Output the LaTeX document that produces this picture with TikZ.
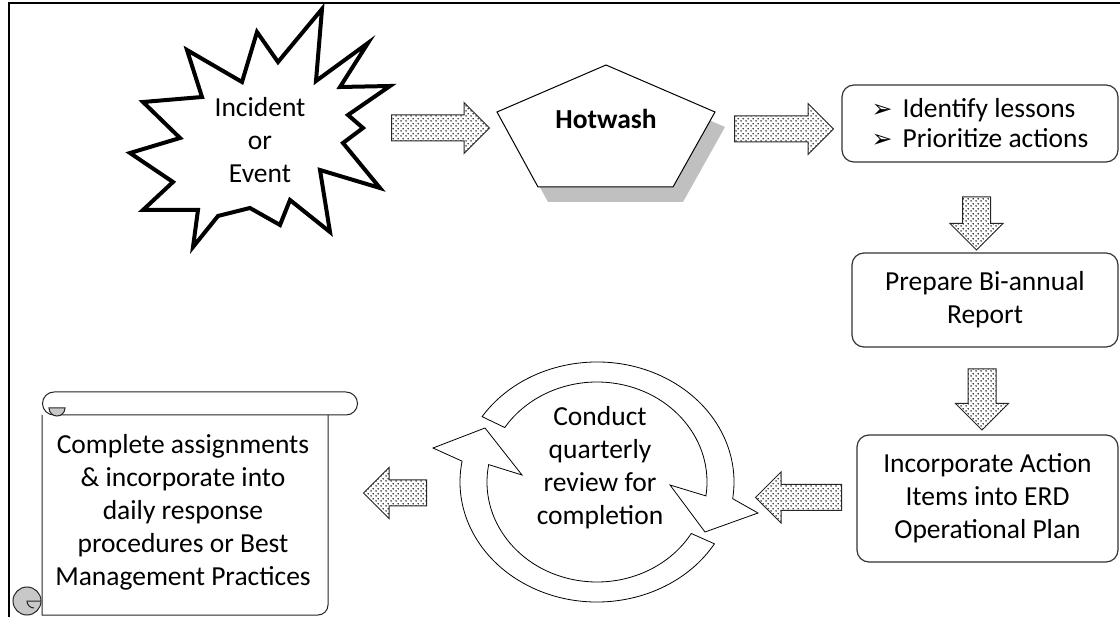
\documentclass[tikz,border=0pt]{standalone}
\usepackage{fontspec}
\setmainfont{Carlito}
\newfontfamily\symfont{DejaVu Sans}
\usetikzlibrary{shapes.arrows,patterns.meta,calc}

\definecolor{curlgray}{RGB}{200,200,200}
\definecolor{shadowgray}{RGB}{192,192,192}

\tikzdeclarepattern{
  name=arrowdots,
  type=uncolored,
  bounding box={(0pt,0pt) and (5pt,5pt)},
  tile size={(5pt,5pt)},
  code={
    \fill (1.25pt,1.25pt) circle (0.9pt);
    \fill (3.75pt,3.75pt) circle (0.9pt);
  }
}

\tikzset{
  body/.style={font=\fontsize{27.5}{33}\selectfont, align=center},
  stepbox/.style={draw=black!80, line width=1.2pt, rounded corners=12pt, fill=white},
  dotarrow/.style={single arrow, draw=black!85, line width=1pt,
    preaction={fill=white}, pattern=arrowdots, pattern color=black,
    single arrow head extend=12.5pt},
  harrow/.style={dotarrow, inner xsep=0pt, inner ysep=12.5pt},
  varrow/.style={dotarrow, inner xsep=13.5pt, inner ysep=0pt, shape border rotate=270},
  cyclearrow/.style={draw, line width=0.8pt, fill=white},
  scrollline/.style={draw=black!85, line width=1pt},
}

\begin{document}
\begin{tikzpicture}[x=1pt, y=-1pt]
  \useasboundingbox (0,0) rectangle (1120,617);

  % frame
  \draw[line width=2.5pt] (9,617) -- (9,3) -- (1120,3);

  % starburst
  \draw[line width=4pt, line join=miter, fill=white]
    (322,9) -- (316,81) -- (368,43) -- (340,87) -- (390,86) -- (348,115)
    -- (363,128) -- (343,143) -- (380,188) -- (320,170) -- (330,232)
    -- (290,200) -- (280,225) -- (250,208) -- (218,216) -- (193,247)
    -- (198,210) -- (143,210) -- (173,182) -- (130,153) -- (180,138)
    -- (143,102) -- (202,97) -- (187,50) -- (242,82) -- (257,32)
    -- (278,62) -- cycle;
  \node[body] (incident) at (260,140) {Incident\\or\\Event};

  % hotwash pentagon with shadow
  \fill[shadowgray, shift={(10,15)}]
    (606,65) -- (715,112) -- (673,187) -- (538,187) -- (497,112) -- cycle;
  \draw[line width=1pt, fill=white]
    (606,65) -- (715,112) -- (673,187) -- (538,187) -- (497,112) -- cycle;
  \node[body, font=\fontsize{27.5}{33}\selectfont\bfseries] (hotwash) at (606,119) {Hotwash};

  % boxes on the right
  \node[stepbox, minimum width=276pt, minimum height=77pt, align=left,
        font=\fontsize{27.5}{30}\selectfont] (lessons) at (980,123.5)
    {{\symfont\fontsize{25}{30}\selectfont ➢}\hspace{10pt}Identify lessons\\
     {\symfont\fontsize{25}{30}\selectfont ➢}\hspace{10pt}Prioritize actions};
  \node[stepbox, body, minimum width=266pt, minimum height=94pt] (report) at (985,300)
    {Prepare Bi-annual\\Report};
  \node[stepbox, body, minimum width=261pt, minimum height=127pt] (erd) at (987.5,498.5)
    {Incorporate Action\\Items into ERD\\Operational Plan};

  % review cycle
  \coordinate (cyc) at (597,482);
  \draw[cyclearrow] ($(cyc)+(31:137 and 120)$)
    arc[start angle=31, end angle=190, x radius=137, y radius=120]
    -- (433,448) -- (485,428) -- (522,475)
    -- ($(cyc)+(190:110 and 100)$)
    arc[start angle=190, end angle=31, x radius=110, y radius=100] -- cycle;
  \draw[cyclearrow] ($(cyc)+(-147:137 and 120)$)
    arc[start angle=-147, end angle=8, x radius=137, y radius=120]
    -- (758,513) -- (705,532) -- (670,485)
    -- ($(cyc)+(8:110 and 100)$)
    arc[start angle=8, end angle=-147, x radius=110, y radius=100] -- cycle;
  \node[body] (review) at (600,468) {Conduct\\quarterly\\review for\\completion};

  % scroll
  \draw[scrollline, fill=white] (42,415) -- (42,615) -- (318,615)
    arc[start angle=90, end angle=0, radius=10] -- (328,415);
  \draw[scrollline, fill=white] (54,392) -- (346,392)
    arc[start angle=-90, end angle=90, radius=11.5] -- (54,415)
    arc[start angle=90, end angle=270, radius=11.5] -- cycle;
  \draw[scrollline, fill=curlgray] (49,408)
    arc[start angle=180, end angle=0, radius=8] -- cycle;
  \draw[scrollline, fill=curlgray] (27,601) circle (14);
  \draw[scrollline] (41,601) -- (27,601) arc[start angle=180, end angle=90, radius=7];
  \node[body] (practices) at (183,512)
    {Complete assignments\\\& incorporate into\\daily response\\procedures or Best\\Management Practices};

  % block arrows
  \node[harrow, minimum height=98pt] (a1) at (434,128) {};
  \node[harrow, minimum height=99pt] (a2) at (777.5,129) {};
  \node[varrow, minimum height=53pt] (a3) at (976.5,216.5) {};
  \node[varrow, minimum height=61pt] (a4) at (982,392.5) {};
  \node[harrow, minimum height=86pt, shape border rotate=180] (a5) at (805,497.5) {};
  \node[harrow, minimum height=63pt, shape border rotate=180] (a6) at (401.5,493) {};
\end{tikzpicture}
\end{document}
